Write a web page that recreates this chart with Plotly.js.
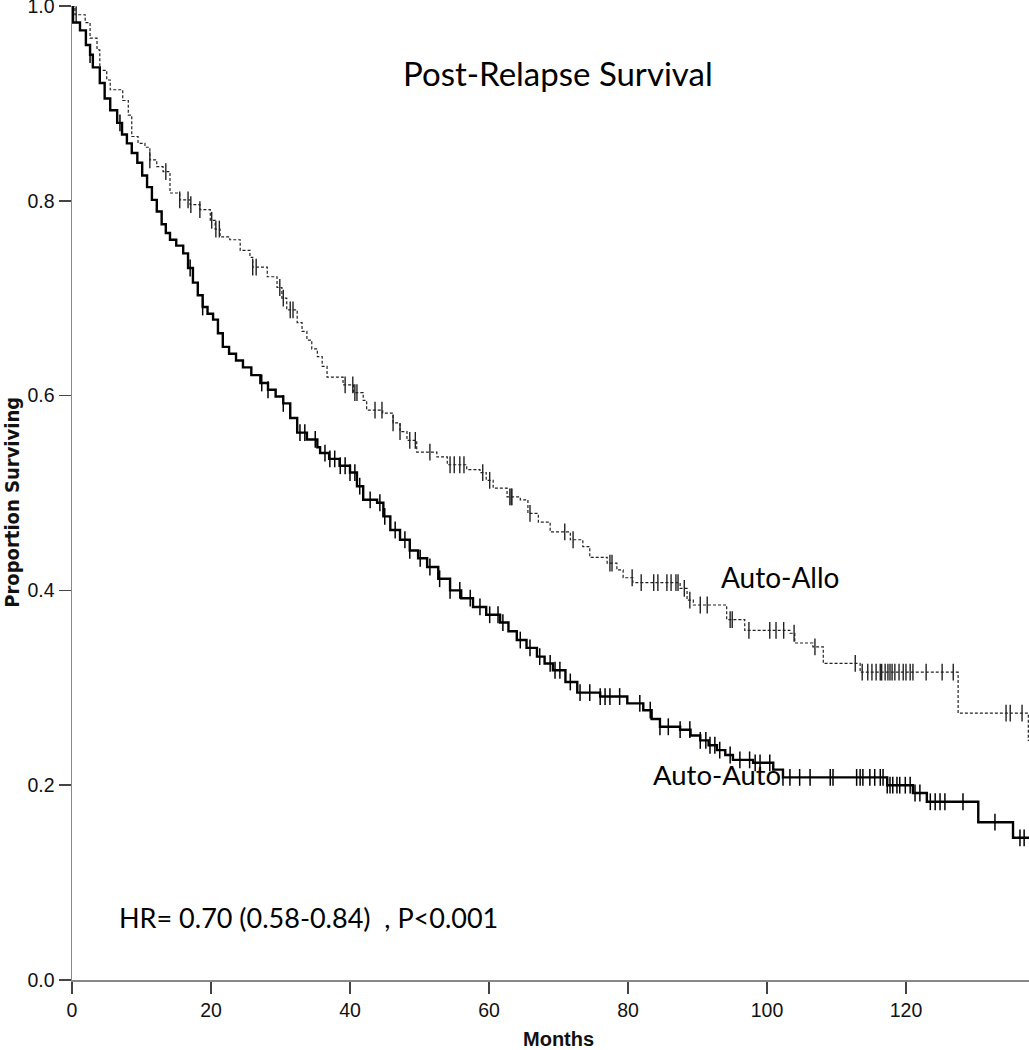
<!DOCTYPE html>
<html>
<head>
<meta charset="utf-8">
<script src="https://cdn.plot.ly/plotly-3.0.1.min.js"></script>
<style>html,body{margin:0;padding:0;background:#fff;}#chart{width:1029px;height:1050px;}</style>
</head>
<body>
<div id="chart"></div>
<script>
// Auto-Auto Kaplan-Meier step points (months, survival)
const autoAutoTime = [0,0.15,1.15,2.0,2.6,3.0,4.0,4.7,5.5,6.5,7.2,7.9,8.6,9.4,10.1,10.8,11.5,12.2,12.9,13.5,14.1,15.0,16.0,16.7,17.4,18.1,18.8,19.5,20.3,21.0,21.7,22.6,23.6,24.6,25.8,27.1,28.2,29.3,30.4,31.4,32.4,33.8,35.3,35.7,37.0,38.5,40.0,41.0,41.9,43.9,44.8,45.8,47.2,48.6,49.8,51.1,52.7,54.4,56.0,57.7,59.6,61.6,62.8,64.0,65.4,66.9,68.0,69.2,71.0,72.7,76.0,79.9,82.2,83.4,84.6,87.5,89.0,90.4,91.6,92.8,94.0,95.1,98.0,100.9,102.3,117.3,121.0,123.0,130.4,135.4,137.7];
const autoAutoSurv = [1.0,0.983,0.975,0.960,0.950,0.937,0.921,0.905,0.893,0.880,0.868,0.859,0.849,0.839,0.826,0.814,0.801,0.789,0.776,0.767,0.760,0.754,0.746,0.731,0.716,0.703,0.691,0.684,0.678,0.664,0.650,0.643,0.636,0.629,0.621,0.613,0.606,0.599,0.592,0.577,0.562,0.555,0.547,0.541,0.535,0.528,0.521,0.507,0.493,0.490,0.476,0.462,0.452,0.441,0.433,0.424,0.412,0.400,0.392,0.383,0.375,0.367,0.358,0.349,0.341,0.332,0.325,0.318,0.306,0.295,0.291,0.284,0.277,0.268,0.260,0.257,0.251,0.246,0.241,0.236,0.231,0.226,0.223,0.216,0.208,0.200,0.192,0.183,0.162,0.146,0.146];
// Auto-Allo Kaplan-Meier step points
const autoAlloTime = [0,0.43,1.6,1.9,2.6,3.6,4.0,5.0,5.5,6.6,7.3,8.1,8.6,9.5,10.5,11.2,12.2,13.1,14.1,15.5,17.0,18.4,19.9,20.6,21.3,22.7,24.2,25.6,26.0,28.1,29.5,30.2,30.9,32.4,33.1,33.8,34.5,35.3,36.0,36.7,39.0,40.5,41.9,42.4,44.7,46.2,47.2,48.2,49.6,52.5,54.0,56.8,58.7,59.6,60.6,62.6,64.5,65.6,67.1,68.8,71.7,73.5,74.5,77.0,78.4,79.3,80.7,87.5,88.5,89.4,93.2,94.2,96.8,103.3,104.0,106.6,108.1,113.4,127.3,127.5,137.3,137.6,137.7];
const autoAlloSurv = [1.0,0.991,0.991,0.983,0.967,0.955,0.934,0.924,0.914,0.914,0.903,0.888,0.866,0.859,0.855,0.842,0.835,0.830,0.808,0.801,0.796,0.791,0.780,0.771,0.763,0.760,0.749,0.742,0.732,0.722,0.711,0.700,0.688,0.675,0.666,0.657,0.648,0.640,0.630,0.619,0.611,0.603,0.595,0.585,0.582,0.572,0.563,0.554,0.542,0.537,0.529,0.524,0.521,0.513,0.505,0.496,0.493,0.479,0.470,0.460,0.452,0.445,0.434,0.428,0.421,0.413,0.408,0.402,0.390,0.385,0.385,0.370,0.359,0.356,0.346,0.342,0.325,0.316,0.316,0.274,0.274,0.246,0.246];
// Censoring times (months)
const autoAutoCensor = [2.6,6.9,17.0,18.8,27.3,28.2,30.4,32.8,33.5,35.0,36.4,37.1,37.8,38.6,39.3,40.0,40.7,41.4,42.9,44.3,45.0,46.5,47.9,48.6,50.1,51.5,52.9,54.4,55.8,57.3,58.7,60.1,61.3,62.0,64.5,65.9,67.3,68.8,69.5,70.2,71.7,73.1,74.5,76.0,76.7,77.4,78.8,81.7,83.2,84.6,85.8,87.5,88.9,90.4,91.2,91.8,92.5,93.2,94.7,96.1,97.5,98.3,99.0,100.4,102.3,103.3,104.7,106.2,109.1,109.5,112.9,113.4,113.8,114.8,115.5,116.3,116.7,117.3,117.7,118.1,118.7,119.1,119.9,120.6,121.3,122.0,123.5,124.2,124.9,125.6,128.2,132.8,136.4,137.0];
const autoAlloCensor = [0.6,11.2,13.5,15.5,16.7,17.1,18.4,20.1,20.7,21.2,26.0,26.5,29.9,30.4,31.4,31.8,39.3,40.4,40.7,41.0,43.6,44.6,46.2,47.2,48.6,49.4,51.5,54.4,55.0,55.8,56.4,59.1,60.1,63.0,63.2,63.3,65.9,70.9,72.1,77.4,77.7,80.6,81.9,83.7,84.3,85.6,86.2,86.9,87.2,88.1,88.9,90.4,91.4,94.7,95.0,97.4,100.4,101.3,102.4,103.9,106.9,112.7,113.7,114.5,115.1,115.7,116.3,116.5,117.0,117.4,117.7,118.0,118.4,119.0,119.6,120.0,120.6,121.0,122.9,125.2,126.8,134.4,135.0,136.7];
// Text
const titleText = "Post-Relapse Survival";
const groupLabels = ["Auto-Auto", "Auto-Allo"];
const hrText = "HR= 0.70 (0.58-0.84)  , P<0.001";
const xTitle = "Months";
const yTitle = "Proportion Surviving";
const xTicks = [0,20,40,60,80,100,120];
const yTicks = [0,0.2,0.4,0.6,0.8,1.0];

function stepAt(times, surv, t) {
  let v = surv[0];
  for (let i = 0; i < times.length; i++) { if (times[i] <= t) v = surv[i]; else break; }
  return v;
}

const traces = [
  {x: autoAlloTime, y: autoAlloSurv, mode: 'lines', line: {shape: 'hv', color: '#222', width: 1.2, dash: '3px,2px'}, hoverinfo: 'skip', showlegend: false},
  {x: autoAlloCensor, y: autoAlloCensor.map(t => stepAt(autoAlloTime, autoAlloSurv, t)), mode: 'markers',
   marker: {symbol: 'line-ns-open', size: 12, color: '#222', line: {color: '#222', width: 1.4}}, showlegend: false},
  {x: autoAutoTime, y: autoAutoSurv, mode: 'lines', line: {shape: 'hv', color: '#000', width: 2.4}, hoverinfo: 'skip', showlegend: false},
  {x: autoAutoCensor, y: autoAutoCensor.map(t => stepAt(autoAutoTime, autoAutoSurv, t)), mode: 'markers',
   marker: {symbol: 'line-ns-open', size: 12, color: '#000', line: {color: '#000', width: 1.5}}, showlegend: false}
];

const textFont = {family: 'Lato, "Open Sans", sans-serif', size: 27, color: '#000'};
const axisFont = {family: '"Liberation Sans", Arial, sans-serif', size: 19.5, color: '#111'};

const layout = {
  width: 1029, height: 1050,
  margin: {l: 72, r: 0, t: 6, b: 70},
  paper_bgcolor: '#fff', plot_bgcolor: '#fff',
  showlegend: false,
  xaxis: {
    range: [0, 137.7], tickvals: xTicks, ticktext: xTicks.map(String),
    showgrid: false, zeroline: false, showline: true, linecolor: '#888', linewidth: 1.5,
    ticks: 'outside', ticklen: 12, tickcolor: '#444', tickwidth: 1.5,
    tickfont: axisFont, ticklabeloverflow: 'allow',
    title: {text: ''}
  },
  yaxis: {
    range: [0, 1], tickvals: yTicks, ticktext: yTicks.map(v => v.toFixed(1)),
    showgrid: false, zeroline: false, showline: true, linecolor: '#888', linewidth: 1.5,
    ticks: 'outside', ticklen: 12, tickcolor: '#444', tickwidth: 1.5,
    tickfont: axisFont, ticklabeloverflow: 'allow',
    title: {text: ''}
  },
  annotations: [
    {x: 69.9, y: 0.931, xref: 'x', yref: 'y', text: titleText, showarrow: false, font: Object.assign({}, textFont, {size: 33}), xanchor: 'center', yanchor: 'middle'},
    {x: 101.9, y: 0.414, xref: 'x', yref: 'y', text: groupLabels[1], showarrow: false, font: Object.assign({}, textFont, {size: 28}), xanchor: 'center', yanchor: 'middle'},
    {x: 92.8, y: 0.211, xref: 'x', yref: 'y', text: groupLabels[0], showarrow: false, font: Object.assign({}, textFont, {size: 27.5}), xanchor: 'center', yanchor: 'middle'},
    {x: 6.5, y: 0.064, xref: 'x', yref: 'y', text: hrText, showarrow: false, font: Object.assign({}, textFont, {size: 27}), xanchor: 'left', yanchor: 'middle'},
    {x: 0.508, y: -0.061, xref: 'paper', yref: 'paper', text: '<b>' + xTitle + '</b>', showarrow: false, font: Object.assign({}, axisFont, {size: 20}), xanchor: 'center', yanchor: 'middle'},
    {x: -0.0627, y: 0.491, xref: 'paper', yref: 'paper', text: '<b>' + yTitle + '</b>', showarrow: false, textangle: -90, font: {family: '"Liberation Sans Narrow", "DejaVu Sans Condensed", Arial, sans-serif', size: 20, color: '#111'}, xanchor: 'center', yanchor: 'middle'}
  ]
};

Plotly.newPlot('chart', traces, layout, {displayModeBar: false, staticPlot: true});
</script>
</body>
</html>
